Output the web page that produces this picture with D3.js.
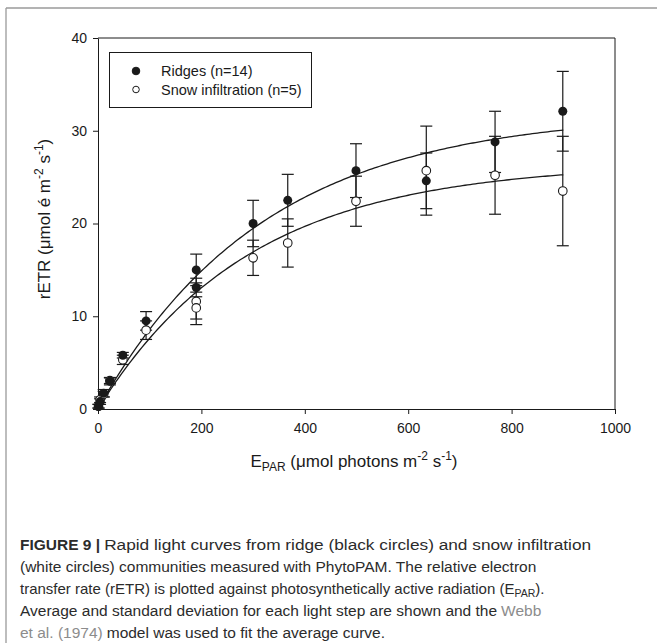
<!DOCTYPE html>
<html>
<head>
<meta charset="utf-8">
<script src="https://cdnjs.cloudflare.com/ajax/libs/d3/7.8.5/d3.min.js"></script>
<style>
  body { margin: 0; background: #fff; }
  svg { display: block; font-family: "Liberation Sans", Arial, sans-serif; }
</style>
</head>
<body>
<svg id="chart" width="657" height="643"></svg>
<script>
// light steps (E_PAR) and means / sd
var ridgeLight = [1, 4, 11, 23, 48, 93, 190, 190, 300, 367, 499, 635, 768, 899];
var ridgeMean  = [0.3, 0.8, 1.7, 3.0, 5.8, 9.5, 15.0, 13.1, 20.0, 22.5, 25.7, 24.6, 28.8, 32.1];
var ridgeSd    = [0.2, 0.3, 0.4, 0.4, 0.3, 1.0, 1.7, 0.5, 2.5, 2.8, 2.9, 3.0, 3.3, 4.3];

var snowLight = [1, 4, 11, 23, 48, 93, 190, 190, 300, 367, 499, 635, 768, 899];
var snowMean  = [0.3, 1.0, 1.6, 3.05, 5.3, 8.5, 11.6, 10.9, 16.3, 17.9, 22.4, 25.7, 25.2, 23.5];
var snowSd    = [0.2, 0.3, 0.3, 0.3, 0.5, 1.0, 2.5, 1.2, 1.9, 2.6, 2.7, 4.8, 4.2, 5.9];

// Webb et al. (1974) fit parameters: Pmax, alpha
var fitPmax  = [32, 26.5];
var fitAlpha = [0.1, 0.09];

var xTicks = [0, 200, 400, 600, 800, 1000];
var yTicks = [0, 10, 20, 30, 40];
var legendLabels = ["Ridges (n=14)", "Snow infiltration (n=5)"];

var svg = d3.select("#chart");

// outer frame of the figure
svg.append("line").attr("x1", 6).attr("y1", 8).attr("x2", 657).attr("y2", 8)
    .attr("stroke", "#9a9a9a").attr("stroke-width", 1.3);
svg.append("line").attr("x1", 6).attr("y1", 8).attr("x2", 6).attr("y2", 643)
    .attr("stroke", "#9a9a9a").attr("stroke-width", 1.3);

var x = d3.scaleLinear().domain([0, 1000]).range([98, 615]);
var y = d3.scaleLinear().domain([0, 40]).range([409, 38]);

var ink = "#1a1a1a";

// axes
var xAxis = svg.append("g").attr("transform", "translate(0,409)")
    .call(d3.axisBottom(x).tickValues(xTicks).tickFormat(d3.format("d"))
        .tickSize(5).tickPadding(9).tickSizeOuter(0));
var yAxis = svg.append("g").attr("transform", "translate(98,0)")
    .call(d3.axisLeft(y).tickValues(yTicks).tickSize(5).tickPadding(6).tickSizeOuter(0));

[xAxis, yAxis].forEach(function(a) {
    a.select(".domain").attr("stroke", ink);
    a.selectAll(".tick line").attr("stroke", ink);
    a.selectAll(".tick text").attr("fill", ink).style("font-size", "14px")
        .style("font-family", "Liberation Sans, Arial, sans-serif");
});

// top and right frame of the plot
svg.append("path")
    .attr("d", "M" + x(0) + "," + y(40) + "H" + x(1000) + "V" + y(0))
    .attr("fill", "none").attr("stroke", ink);

// error bars
function errorBars(light, mean, sd) {
    var g = svg.append("g").attr("stroke", ink).attr("stroke-width", 1.2);
    light.forEach(function(d, i) {
        var cx = x(d), top = y(mean[i] + sd[i]), bot = y(Math.max(0, mean[i] - sd[i]));
        g.append("line").attr("x1", cx).attr("x2", cx).attr("y1", top).attr("y2", bot);
        g.append("line").attr("x1", cx - 6).attr("x2", cx + 6).attr("y1", top).attr("y2", top);
        g.append("line").attr("x1", cx - 6).attr("x2", cx + 6).attr("y1", bot).attr("y2", bot);
    });
}
errorBars(ridgeLight, ridgeMean, ridgeSd);
errorBars(snowLight, snowMean, snowSd);

// fitted curves
var curveLight = d3.range(0, 901, 5);
var line = d3.line().x(function(d) { return x(d[0]); }).y(function(d) { return y(d[1]); });
fitPmax.forEach(function(pm, k) {
    var a = fitAlpha[k];
    var pts = curveLight.map(function(e) { return [e, pm * (1 - Math.exp(-a * e / pm))]; });
    svg.append("path").attr("d", line(pts))
        .attr("fill", "none").attr("stroke", ink).attr("stroke-width", 1.3);
});

// points
svg.append("g").selectAll("circle")
    .data(snowLight)
    .enter().append("circle")
    .attr("cx", function(d) { return x(d); })
    .attr("cy", function(d, i) { return y(snowMean[i]); })
    .attr("r", 4.3)
    .attr("fill", "#fff").attr("stroke", ink).attr("stroke-width", 1.1);

svg.append("g").selectAll("circle")
    .data(ridgeLight)
    .enter().append("circle")
    .attr("cx", function(d) { return x(d); })
    .attr("cy", function(d, i) { return y(ridgeMean[i]); })
    .attr("r", 4.5)
    .attr("fill", ink);

// legend
svg.append("rect").attr("x", 109.5).attr("y", 52.5).attr("width", 202).attr("height", 55)
    .attr("fill", "#fff").attr("stroke", ink);
var leg = svg.selectAll(".leg")
    .data(legendLabels)
    .enter().append("g")
    .attr("class", "leg")
    .attr("transform", function(d, i) { return "translate(0," + (71 + i * 18.5) + ")"; });
leg.append("circle").attr("cx", 136).attr("cy", 0)
    .attr("r", function(d, i) { return i ? 3.3 : 3.8; })
    .attr("fill", function(d, i) { return i ? "#fff" : ink; })
    .attr("stroke", ink).attr("stroke-width", 1);
leg.append("text").attr("x", 161).attr("y", 5)
    .style("font-size", "14.5px").attr("fill", ink)
    .text(function(d) { return d; });

// axis titles
var yt = svg.append("text")
    .attr("transform", "translate(50,219) rotate(-90)")
    .attr("text-anchor", "middle").style("font-size", "17px").attr("fill", ink);
yt.append("tspan").text("rETR (\u03bcmol \u00e9 m");
yt.append("tspan").attr("dy", -7).style("font-size", "12px").text("-2");
yt.append("tspan").attr("dy", 7).text(" s");
yt.append("tspan").attr("dy", -7).style("font-size", "12px").text("-1");
yt.append("tspan").attr("dy", 7).text(")");

var xt = svg.append("text")
    .attr("x", 354).attr("y", 467)
    .attr("text-anchor", "middle").style("font-size", "17px").attr("fill", ink);
xt.append("tspan").text("E");
xt.append("tspan").attr("dy", 4).style("font-size", "12px").text("PAR");
xt.append("tspan").attr("dy", -4).text(" (\u03bcmol photons m");
xt.append("tspan").attr("dy", -7).style("font-size", "12px").text("-2");
xt.append("tspan").attr("dy", 7).text(" s");
xt.append("tspan").attr("dy", -7).style("font-size", "12px").text("-1");
xt.append("tspan").attr("dy", 7).text(")");

// caption: each line is a list of [text, style, fitted width]; pieces are laid out one after another
var capColor = "#2b2b2b", linkColor = "#8c8c8c";
var capLines = [
    [["FIGURE 9 |", "b", 0], ["Rapid light curves from ridge (black circles) and snow infiltration", "n", 487]],
    [["(white circles) communities measured with PhytoPAM. The relative electron", "n", 0]],
    [["transfer rate (rETR) is plotted against photosynthetically active radiation (E", "n", 0]],
    [["Average and standard deviation for each light step are shown and the", "n", 0], ["Webb", "l", 0]],
    [["et al. (1974)", "l", 0], ["model was used to fit the average curve.", "n", 0]]
];
capLines.forEach(function(parts, i) {
    var cx = 20, base = 550 + i * 22;
    parts.forEach(function(p, j) {
        if (j > 0) cx += 4;
        var t = svg.append("text").attr("x", cx).attr("y", base)
            .style("font-size", i === 2 ? "15px" : "15.5px")
            .style("font-weight", p[1] === "b" ? "bold" : "normal")
            .attr("fill", p[1] === "l" ? linkColor : capColor)
            .text(p[0]);
        if (i === 2) {
            t.append("tspan").attr("dy", 3).style("font-size", "10.5px").text("PAR");
            t.append("tspan").attr("dy", -3).text(").");
        }
        if (p[2]) t.attr("textLength", p[2]).attr("lengthAdjust", "spacingAndGlyphs");
        cx += p[2] ? p[2] : t.node().getComputedTextLength();
    });
});
</script>
</body>
</html>
